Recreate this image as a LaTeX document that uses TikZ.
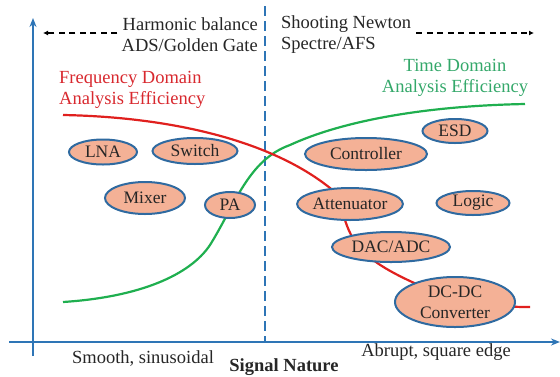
\documentclass[tikz,border=0pt]{standalone}
\usepackage{fontspec}
\setmainfont{Liberation Serif}
\usetikzlibrary{shapes.geometric,arrows.meta}
\definecolor{axisblue}{HTML}{2E75B6}
\definecolor{edgeblue}{HTML}{2F6AA0}
\definecolor{salmon}{HTML}{F4B196}
\definecolor{curvered}{HTML}{E0201E}
\definecolor{curvegreen}{HTML}{1FAF4F}
\definecolor{txtred}{HTML}{D8282E}
\definecolor{txtgreen}{HTML}{34A86A}
\definecolor{txtgray}{HTML}{262626}
\tikzset{
  blk/.style={ellipse, draw=edgeblue, line width=2pt, fill=salmon, inner sep=0pt,
              font=\fontsize{17.5}{19}\selectfont, text=txtgray, align=center},
  lbl/.style={font=\fontsize{18.5}{21}\selectfont, text=txtgray, inner sep=0pt},
  axisline/.style={draw=axisblue, line width=2.2pt},
  toparrow/.style={draw=black, line width=1.6pt, dash pattern=on 6pt off 4.5pt, -{Latex[length=5pt,width=5pt]}},
}
\begin{document}
\begin{tikzpicture}[x=1pt,y=-1pt]
\useasboundingbox (0,0) rectangle (560,376);
% axes
\coordinate (ybot) at (33,356);
\coordinate (ytop) at (33,18);
\coordinate (xleft) at (9,342);
\coordinate (xright) at (560,342);
\draw[axisline, -{Stealth[length=9pt,width=7pt]}] (ybot) -- (ytop);
\draw[axisline, -{Stealth[length=9pt,width=7pt]}] (xleft) -- (xright);
% divider
\coordinate (dtop) at (265,6);
\coordinate (dbot) at (265,342);
\draw[draw=axisblue, line width=2.2pt, dash pattern=on 10pt off 5pt] (dtop) -- (dbot);
% top labels
\node[lbl, anchor=east, align=right] (hb) at (258,35) {Harmonic balance\\ADS/Golden Gate};
\node[lbl, anchor=west, align=left] (sn) at (281,35) {Shooting Newton\\Spectre/AFS};
\coordinate (la) at (43,33);
\coordinate (ra) at (534,33);
\draw[toparrow] (hb.west |- la) ++(-4,0) coordinate (lstart) -- (la);
\draw[toparrow] (sn.east |- ra) ++(5,0) coordinate (rstart) -- (ra);
% curve labels
\node[lbl, text=txtred, anchor=west, align=left] (fd) at (59,90) {Frequency Domain\\Analysis Efficiency};
\node[lbl, text=txtgreen, align=center] (td) at (455,78) {Time Domain\\Analysis Efficiency};
% curves
\coordinate (g0) at (63,302);
\coordinate (g1) at (210,245);
\coordinate (g2) at (290,145);
\coordinate (g3) at (525,104);
\draw[curvegreen, line width=2.2pt] (g0) .. controls (140,297) and (190,275) .. (g1)
  .. controls (235,205) and (248,160) .. (g2)
  .. controls (340,122) and (420,106) .. (g3);
\coordinate (r0) at (63,115);
\coordinate (r1) at (330,188);
\coordinate (r2) at (360,248);
\coordinate (r3) at (430,290);
\coordinate (r4) at (530,307);
\draw[curvered, line width=2.2pt] (r0) .. controls (170,117) and (270,140) .. (r1)
  .. controls (345,200) and (340,225) .. (r2)
  .. controls (375,265) and (400,277) .. (r3)
  .. controls (470,305) and (500,307) .. (r4);
% blocks
\node[blk, minimum width=68pt, minimum height=25pt] (lna) at (103,152) {LNA};
\node[blk, minimum width=85pt, minimum height=26pt] (sw) at (195,151) {Switch};
\node[blk, minimum width=80pt, minimum height=32pt] (mix) at (145,198) {Mixer};
\node[blk, minimum width=50pt, minimum height=26pt] (pa) at (230,205) {PA};
\node[blk, minimum width=65pt, minimum height=24pt] (esd) at (455,131) {ESD};
\node[blk, minimum width=122pt, minimum height=32pt] (ctl) at (366,154) {Controller};
\node[blk, minimum width=100pt, minimum height=32pt] (att) at (350,204) {Attenuator};
\node[blk, minimum width=73pt, minimum height=24pt] (lg) at (473,203) {Logic};
\node[blk, minimum width=118pt, minimum height=30pt] (dac) at (391,247) {DAC/ADC};
\node[blk, minimum width=120pt, minimum height=50pt, font=\fontsize{17.5}{21}\selectfont] (dcdc) at (455,302) {DC-DC\\Converter};
% bottom labels
\node[lbl] (smooth) at (143,358) {Smooth, sinusoidal};
\node[lbl, font=\fontsize{18.5}{21}\selectfont\bfseries] (signal) at (284,367) {Signal Nature};
\node[lbl] (abrupt) at (436,352) {Abrupt, square edge};
\end{tikzpicture}
\end{document}
